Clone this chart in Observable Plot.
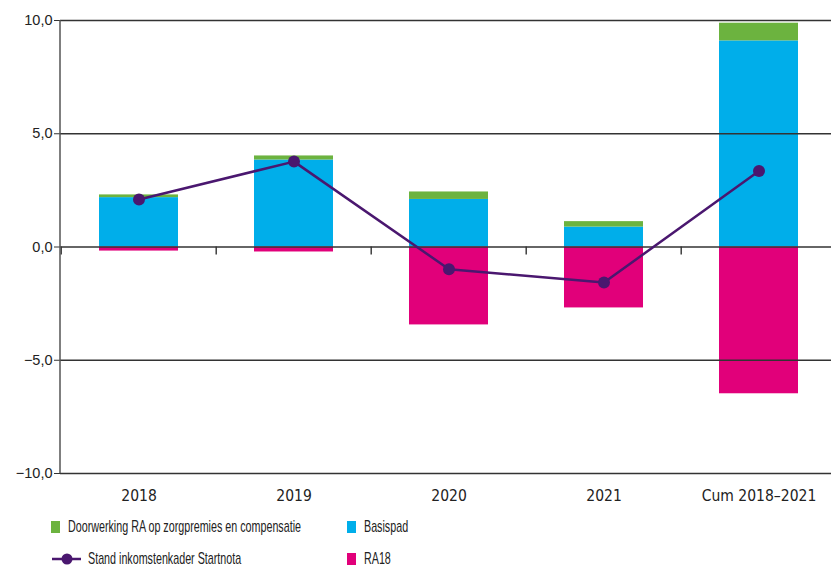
<!DOCTYPE html>
<html>
<head>
<meta charset="utf-8">
<script src="https://cdn.jsdelivr.net/npm/d3@7"></script>
<script src="https://cdn.jsdelivr.net/npm/@observablehq/plot@0.6"></script>
<style>
  html, body { margin: 0; padding: 0; background: #fff; }
  body { width: 831px; height: 567px; overflow: hidden; font-family: "Liberation Sans", Arial, sans-serif; }
  #chart svg { display: block; }
  .legend { position: relative; height: 59px; font-size: 17px; line-height: 16px; color: #222; }
  .item { position: absolute; display: flex; align-items: center; height: 16px; white-space: nowrap; }
  .sw { width: 9px; height: 12px; margin-right: 8px; flex: none; }
  .lbl { display: inline-block; transform-origin: left center; }
</style>
</head>
<body>
<div id="chart"></div>
<div class="legend" id="legend"></div>
<script>
const categories = ["2018", "2019", "2020", "2021", "Cum 2018–2021"];
const seriesNames = ["Basispad", "Doorwerking RA op zorgpremies en compensatie", "RA18"];
const basispad   = [2.18, 3.84, 2.10, 0.88, 9.10];
const doorwerking = [0.12, 0.18, 0.33, 0.24, 0.78];
const ra18       = [-0.18, -0.22, -3.44, -2.69, -6.48];
const stand      = [2.10, 3.77, -0.98, -1.57, 3.36];
const yTicks = [-10, -5, 0, 5, 10];
const colors = {"Basispad": "#00aeea", "Doorwerking RA op zorgpremies en compensatie": "#6cb33f", "RA18": "#e1007a"};
const lineColor = "#4a176f";

const bars = [];
categories.forEach((c, i) => {
  bars.push({cat: c, series: "Basispad", value: basispad[i]});
  bars.push({cat: c, series: "Doorwerking RA op zorgpremies en compensatie", value: doorwerking[i]});
  bars.push({cat: c, series: "RA18", value: ra18[i]});
});
const line = categories.map((c, i) => ({cat: c, value: stand[i]}));

const W = 831, H = 508;
const xRange = [60, 838];
const step = (xRange[1] - xRange[0]) / categories.length;
const fmt = v => (v < 0 ? "−" : "") + Math.abs(v).toFixed(1).replace(".", ",");
const condensed = "'DejaVu Sans Condensed', 'Liberation Sans Narrow', Arial, sans-serif";

const chart = Plot.plot({
  width: W, height: H,
  marginLeft: 60, marginRight: 0, marginTop: 20, marginBottom: 35,
  style: {fontFamily: condensed, fontSize: "15px", color: "#222"},
  x: {domain: categories, range: xRange, paddingInner: 0.49, paddingOuter: 0.245, label: null},
  y: {domain: [-10, 10], label: null},
  color: {domain: seriesNames, range: seriesNames.map(s => colors[s])},
  marks: [
    Plot.barY(bars, Plot.stackY({order: seriesNames}, {x: "cat", y: "value", fill: "series", z: "series"})),
    Plot.ruleY(yTicks, {stroke: "#333", strokeWidth: 1.3}),
    Plot.ruleX(categories, {x: d => d, y1: 0, y2: -0.35, stroke: "#333", strokeWidth: 1.4, dx: -step / 2}),
    Plot.axisY(yTicks, {tickFormat: fmt, tickSize: 6, stroke: "#333", fontFamily: "'Liberation Sans', Arial, sans-serif", fontSize: 14.5, tickPadding: 2}),
    Plot.axisX({tickSize: 0, tickPadding: 16, fontSize: 15.5}),
    Plot.line(line, {x: "cat", y: "value", stroke: lineColor, strokeWidth: 2.5}),
    Plot.dot(line, {x: "cat", y: "value", fill: lineColor, r: 6})
  ]
});
// y axis vertical line at left frame edge
d3.select(chart).append("line")
  .attr("x1", 60).attr("x2", 60).attr("y1", 20).attr("y2", H - 35)
  .attr("stroke", "#555").attr("stroke-width", 1.5);
document.getElementById("chart").appendChild(chart);

const legendItems = [
  {label: "Doorwerking RA op zorgpremies en compensatie", type: "sq", color: colors["Doorwerking RA op zorgpremies en compensatie"], left: 51, top: 11},
  {label: "Basispad", type: "sq", color: colors["Basispad"], left: 347, top: 11},
  {label: "Stand inkomstenkader Startnota", type: "line", color: lineColor, left: 52, top: 43},
  {label: "RA18", type: "sq", color: colors["RA18"], left: 347, top: 43}
];
const lg = document.getElementById("legend");
const spans = [];
legendItems.forEach(it => {
  const d = document.createElement("div");
  d.className = "item";
  d.style.left = it.left + "px";
  d.style.top = it.top + "px";
  if (it.type === "sq") {
    d.innerHTML = `<div class="sw" style="background:${it.color}"></div><span class="lbl">${it.label}</span>`;
  } else {
    d.innerHTML = `<svg width="30" height="14" style="margin-right:6px;flex:none"><line x1="0" x2="29" y1="7" y2="7" stroke="${it.color}" stroke-width="2.5"/><circle cx="15" cy="7" r="5.5" fill="${it.color}"/></svg><span class="lbl">${it.label}</span>`;
  }
  lg.appendChild(d);
  spans.push(d.querySelector(".lbl"));
});
// condense legend text to the reference's narrow typeface width
const targetWidth = 233;
const measured = spans[0].getBoundingClientRect().width;
const k = Math.min(1, targetWidth / measured);
spans.forEach(s => { s.style.transform = `scaleX(${k})`; });
</script>
</body>
</html>
